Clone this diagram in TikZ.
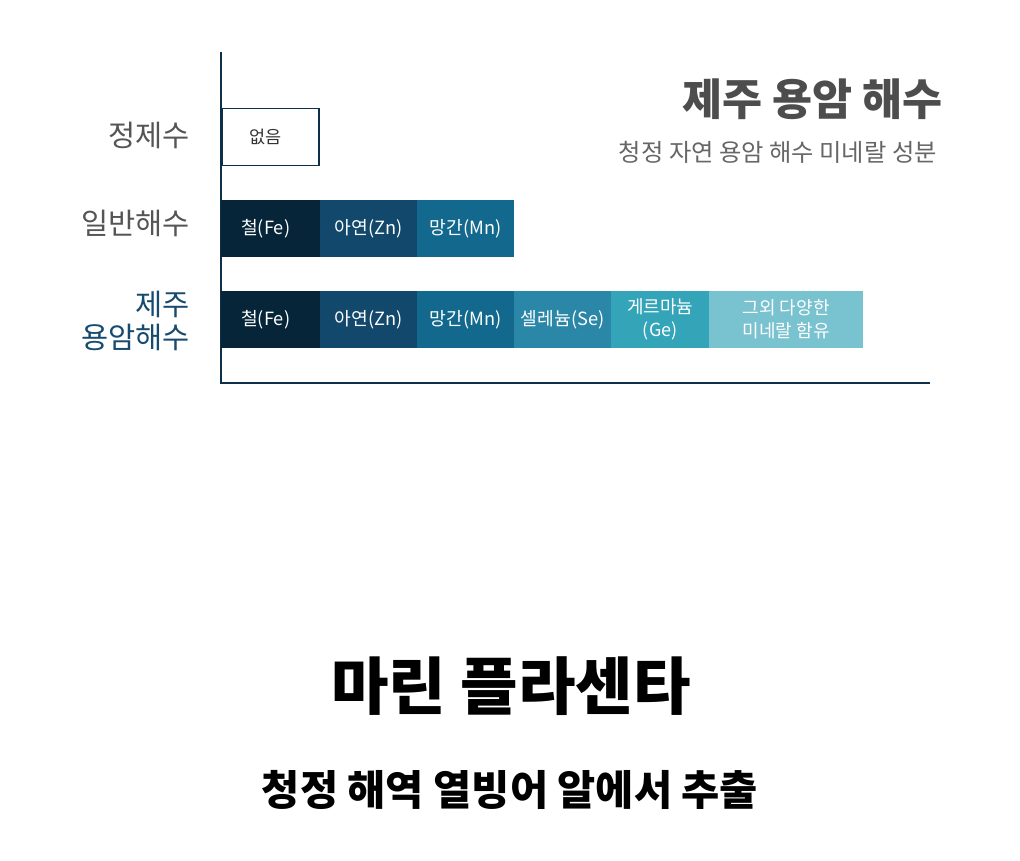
\documentclass[tikz,border=0pt]{standalone}
\usepackage{fontspec}
\setmainfont{Noto Sans CJK KR}
\begin{document}
\begin{tikzpicture}[x=1pt,y=-1pt,
  seg/.style={anchor=north west,inner sep=0pt,minimum height=57pt,text=white,font=\fontsize{18.2}{23}\selectfont,align=center},
  rowlab/.style={anchor=east,inner sep=0pt,text=labgray,font=\fontsize{29.5}{33}\selectfont,align=right},
  axis/.style={draw=axiscol,line width=2pt}]
\definecolor{axiscol}{HTML}{0D2F47}
\definecolor{cfe}{HTML}{062539}
\definecolor{czn}{HTML}{11486B}
\definecolor{cmn}{HTML}{12698D}
\definecolor{cse}{HTML}{2A87A8}
\definecolor{cge}{HTML}{34A4B9}
\definecolor{cot}{HTML}{79C2CF}
\definecolor{labgray}{HTML}{555555}
\definecolor{jeju}{HTML}{164A6E}
\definecolor{titlegray}{HTML}{4D4D4D}
\definecolor{subgray}{HTML}{666666}
\definecolor{black1}{HTML}{333333}
\useasboundingbox[fill=white] (0,0) rectangle (1020,861);
% axes
\coordinate (top) at (221,52);
\coordinate (origin) at (221,383);
\coordinate (xend) at (930,383);
\draw[axis] (top) -- (origin) -- (xend);
% row 1
\node[seg,minimum width=97pt,fill=white,draw=axiscol,line width=1.5pt,text=black1,font=\fontsize{17.5}{20}\selectfont] (none) at (221,108) {\hspace*{-9pt}없음};
% row 2
\node[seg,minimum width=99pt,fill=cfe] (fe2) at (221,200) {\hspace*{-10pt}철(Fe)};
\node[seg,minimum width=97pt,fill=czn] (zn2) at (320,200) {아연(Zn)};
\node[seg,minimum width=97pt,fill=cmn] (mn2) at (417,200) {망간(Mn)};
% row 3
\node[seg,minimum width=99pt,fill=cfe] (fe3) at (221,291) {\hspace*{-10pt}철(Fe)};
\node[seg,minimum width=97pt,fill=czn] (zn3) at (320,291) {아연(Zn)};
\node[seg,minimum width=97pt,fill=cmn] (mn3) at (417,291) {망간(Mn)};
\node[seg,minimum width=97pt,fill=cse] (se3) at (514,291) {셀레늄(Se)};
\node[seg,minimum width=98pt,fill=cge,font=\fontsize{18}{23}\selectfont] (ge3) at (611,291) {게르마늄\\(Ge)};
\node[seg,minimum width=154pt,fill=cot,font=\fontsize{18}{23}\selectfont] (ot3) at (709,291) {그외 다양한\\미네랄 함유};
% row labels
\node[rowlab] (l1) at (190,135) {정제수};
\node[rowlab] (l2) at (190,223) {일반해수};
\node[rowlab,text=jeju] (l3) at (190,321) {제주\\용암해수};
% titles
\node[anchor=east,inner sep=0pt,text=titlegray,font=\fontsize{43.5}{47}\selectfont\bfseries] (title) at (943,99) {제주 용암 해수};
\node[anchor=east,inner sep=0pt,text=subgray,font=\fontsize{24.3}{28}\selectfont] (sub) at (937,152) {청정 자연 용암 해수 미네랄 성분};
% bottom
\node[inner sep=0pt,text=black,font=\fontsize{62.5}{66}\selectfont\bfseries] (bt) at (511,686) {마린 플라센타};
\node[inner sep=0pt,text=black,font=\fontsize{41.5}{45}\selectfont\bfseries] (bs) at (510,790) {청정 해역 열빙어 알에서 추출};
\end{tikzpicture}
\end{document}
